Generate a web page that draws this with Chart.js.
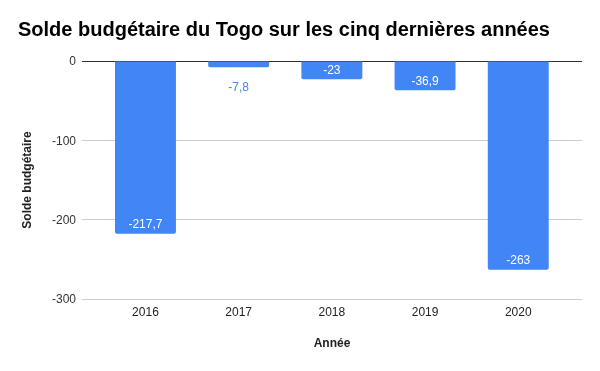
<!DOCTYPE html>
<html>
<head>
<meta charset="utf-8">
<script src="https://cdn.jsdelivr.net/npm/chart.js@4"></script>
<style>
  html, body { margin: 0; padding: 0; background: #fff; }
  #box { width: 600px; height: 371px; }
</style>
</head>
<body>
<div id="box"><canvas id="solde"></canvas></div>
<script>
const years = ['2016', '2017', '2018', '2019', '2020'];
const solde = [-217.7, -7.8, -23, -36.9, -263];
const yTicks = [0, -100, -200, -300];

const FONT = '"Liberation Sans", Arial, sans-serif';
const BLUE = '#4285F4';

// valeurs affichées sur les barres (virgule décimale)
const barLabels = {
    id: 'barLabels',
    afterDatasetsDraw(chart) {
        const ctx = chart.ctx;
        const meta = chart.getDatasetMeta(0);
        ctx.save();
        ctx.font = '12px ' + FONT;
        ctx.textAlign = 'center';
        ctx.textBaseline = 'middle';
        meta.data.forEach((bar, i) => {
            const txt = String(solde[i]).replace('.', ',');
            const h = Math.abs(bar.y - bar.base);
            if (h > 12) {
                ctx.fillStyle = '#fff';
                ctx.fillText(txt, bar.x, bar.y - 9);
            } else {
                ctx.fillStyle = BLUE;
                ctx.fillText(txt, bar.x, bar.y + 20);
            }
        });
        ctx.restore();
    }
};

new Chart(document.getElementById('solde'), {
    type: 'bar',
    data: {
        datasets: [{
            label: 'Solde budgétaire',
            data: solde.map((v, i) => ({ x: i + 1, y: v })),
            backgroundColor: BLUE,
            borderRadius: 2,
            barPercentage: 0.654,
            categoryPercentage: 1,
        }]
    },
    options: {
        responsive: true,
        maintainAspectRatio: false,
        devicePixelRatio: 1,
        animation: false,
        layout: { padding: { left: 18, right: 18, top: 0, bottom: 0 } },
        plugins: {
            legend: { display: false },
            tooltip: { enabled: false },
            title: {
                display: true,
                text: 'Solde budgétaire du Togo sur les cinq dernières années',
                align: 'start',
                color: '#000',
                font: { family: FONT, size: 20, weight: 'bold' },
                padding: { top: 18, bottom: 19 }
            }
        },
        scales: {
            x: {
                type: 'linear',
                offset: false,
                min: 0.319,
                max: 5.684,
                grid: { display: false, drawTicks: false },
                border: { display: false },
                ticks: {
                    stepSize: 1,
                    includeBounds: false,
                    padding: 6,
                    color: '#222',
                    font: { family: FONT, size: 12 },
                    callback: v => years[v - 1] ?? ''
                },
                title: {
                    display: true,
                    text: 'Année',
                    color: '#222',
                    font: { family: FONT, size: 12, weight: 'bold' },
                    padding: { top: 0, bottom: 20 }
                },
                afterFit: s => { s.height = 72; }
            },
            y: {
                min: -300,
                max: 0,
                afterBuildTicks: s => { s.ticks = yTicks.map(v => ({ value: v })); },
                grid: {
                    drawTicks: false,
                    color: c => c.tick && c.tick.value === 0 ? '#333' : '#ccc'
                },
                border: { display: false },
                ticks: {
                    padding: 6,
                    labelOffset: 1,
                    color: '#333',
                    font: { family: FONT, size: 12 }
                },
                title: {
                    display: true,
                    text: 'Solde budgétaire',
                    color: '#222',
                    font: { family: FONT, size: 12, weight: 'bold' },
                    padding: { top: 2, bottom: 4 }
                },
                afterFit: s => { s.width = 64; }
            }
        }
    },
    plugins: [barLabels]
});
</script>
</body>
</html>
